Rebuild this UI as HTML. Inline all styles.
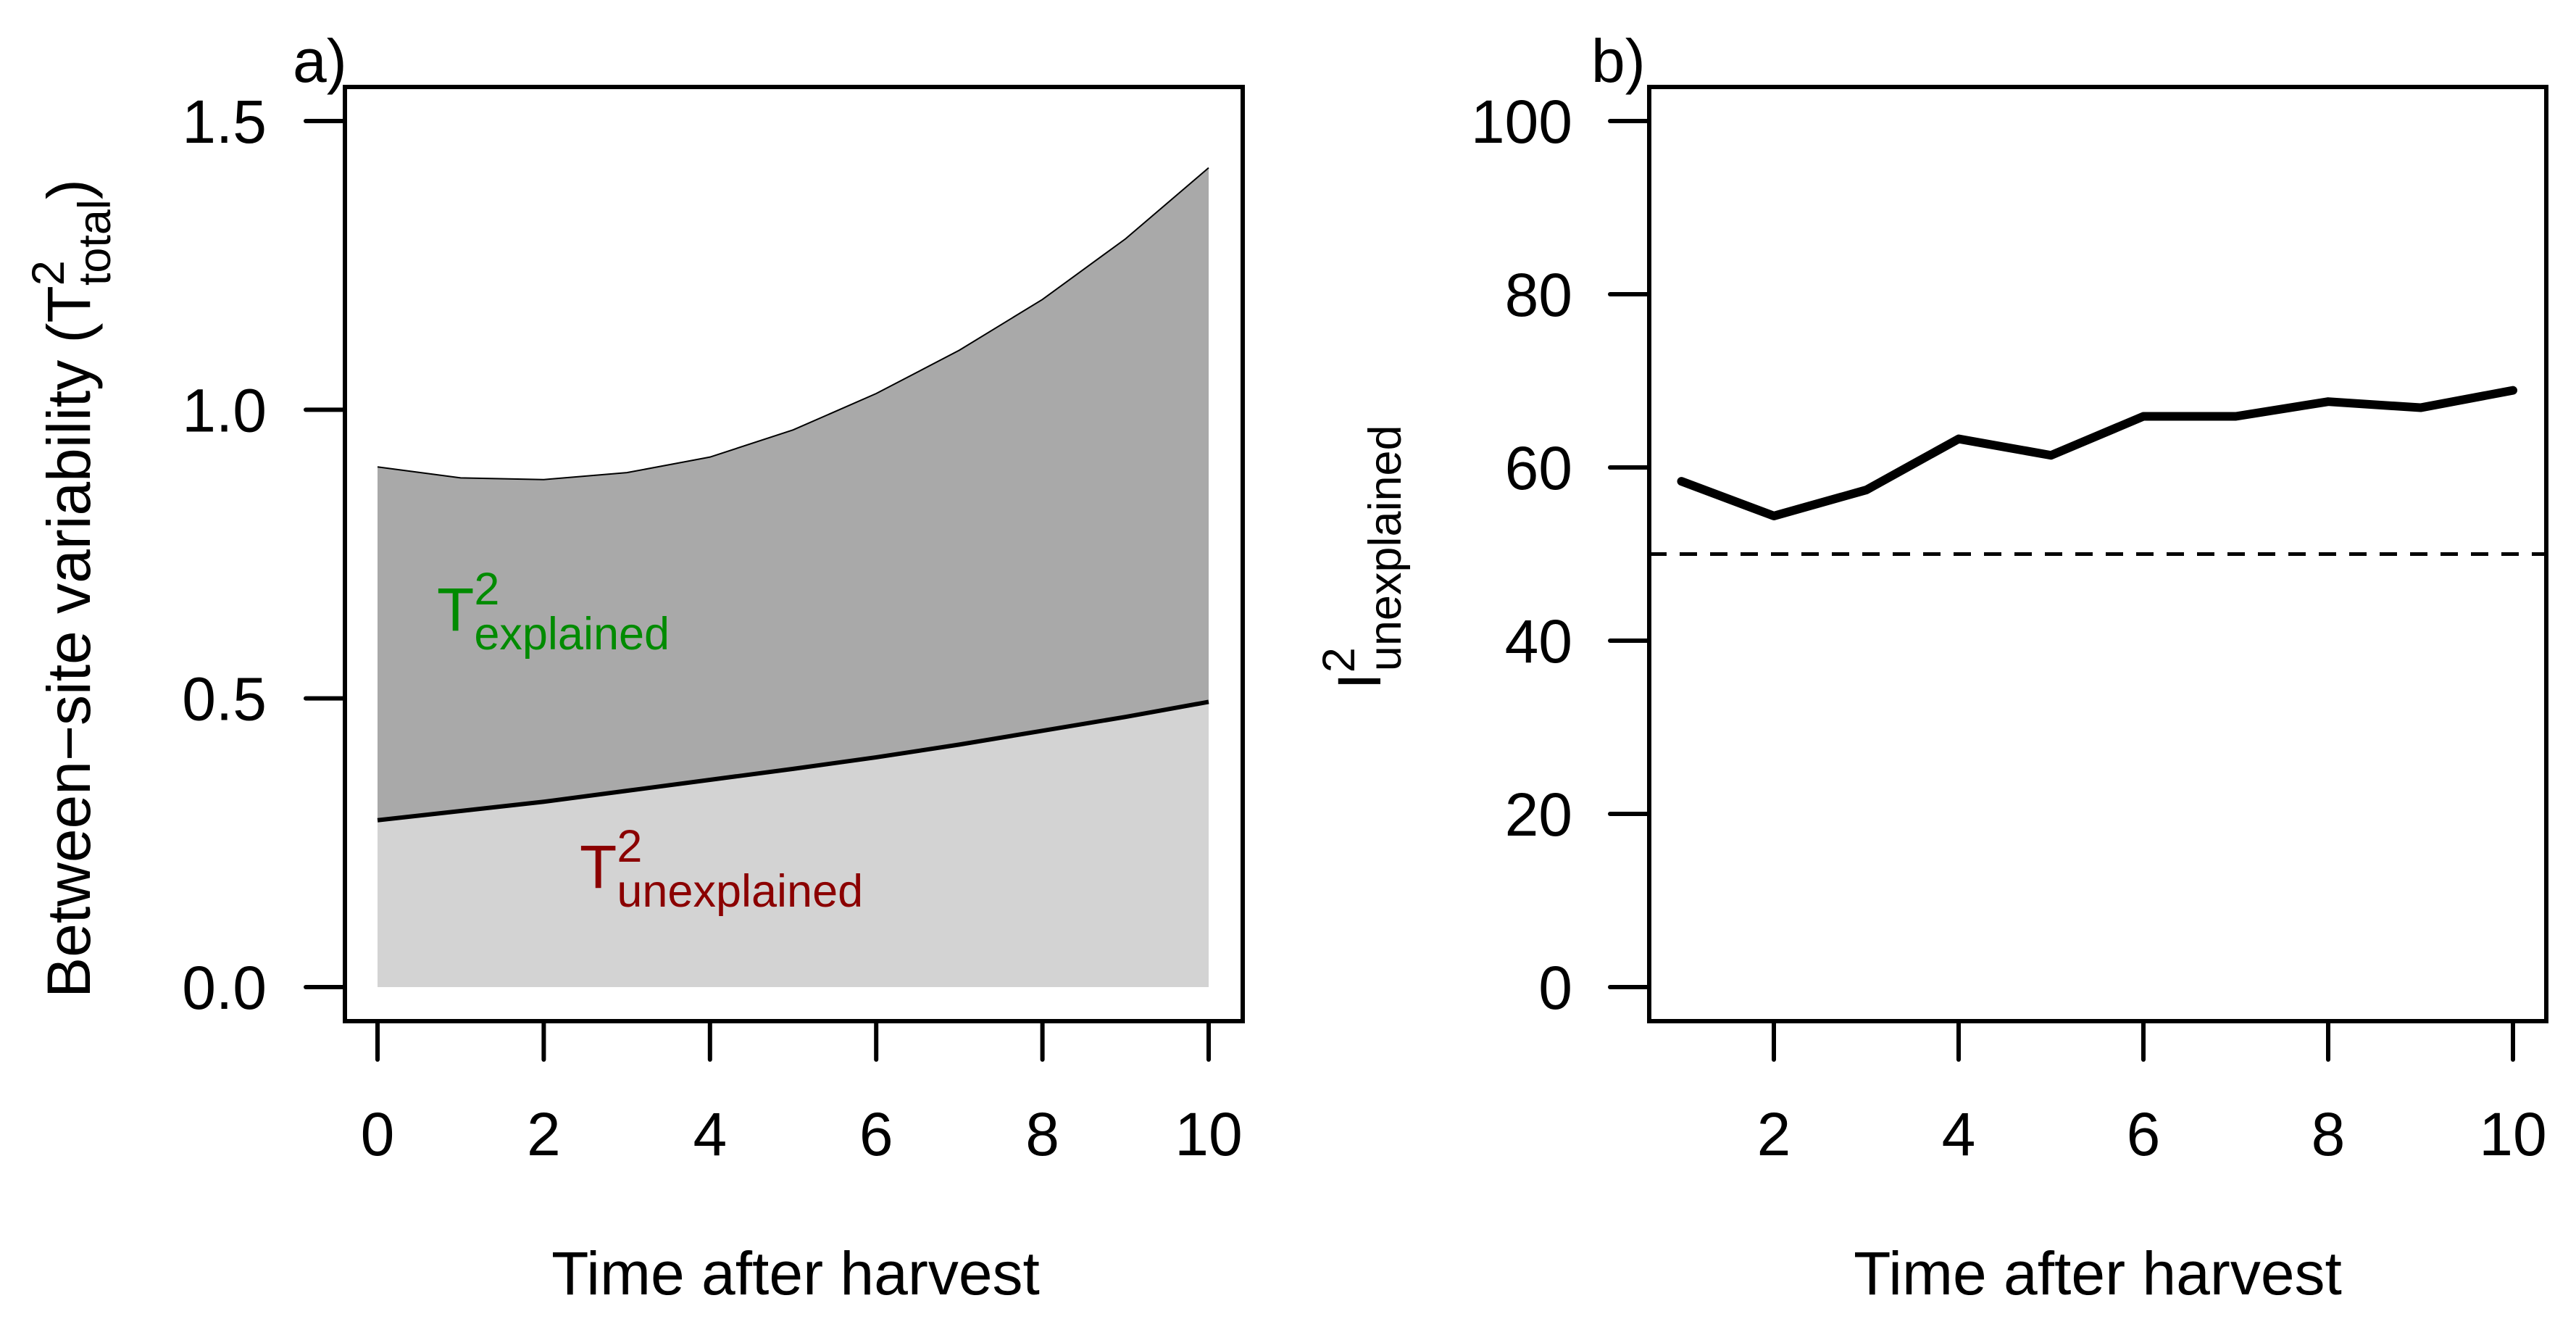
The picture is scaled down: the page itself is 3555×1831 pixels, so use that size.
<!DOCTYPE html>
<html><head><meta charset="utf-8"><style>
html,body{margin:0;padding:0;background:#fff}
svg{display:block;font-family:"Liberation Sans",Arial,sans-serif}
</style></head><body>
<svg id="chart" width="3555" height="1831" viewBox="0 0 3555 1831" xmlns="http://www.w3.org/2000/svg">
<g id="pa"></g>
<g id="pb"></g>
</svg>
<script>
const aTimes=[0,1,2,3,4,5,6,7,8,9,10];
const aTotal=[0.901,0.882,0.879,0.891,0.918,0.965,1.028,1.103,1.191,1.296,1.419];
const aUnexplained=[0.289,0.305,0.321,0.340,0.359,0.378,0.398,0.420,0.444,0.468,0.494];
const aYTicks=[0,0.5,1,1.5];
const aYTickLabels=["0.0","0.5","1.0","1.5"];
const aXTicks=[0,2,4,6,8,10];
const bTimes=[1,2,3,4,5,6,7,8,9,10];
const bI2=[58.4,54.4,57.4,63.3,61.4,65.9,65.9,67.6,66.9,68.9];
const bThreshold=50;
const bYTicks=[0,20,40,60,80,100];
const bXTicks=[2,4,6,8,10];

const NS="http://www.w3.org/2000/svg";
function mk(parent,tag,attrs,text){const e=document.createElementNS(NS,tag);for(const k in attrs)e.setAttribute(k,attrs[k]);if(text!==undefined)e.textContent=text;parent.appendChild(e);return e;}

const pa=document.getElementById('pa');
const ax=v=>521+(1668-521)*(v/10);
const ay=v=>1362-(1362-167)*(v/1.5);
let d="M"+ax(aTimes[0])+","+ay(0);
aTimes.forEach((t,i)=>d+=" L"+ax(t)+","+ay(aUnexplained[i]));
d+=" L"+ax(aTimes[aTimes.length-1])+","+ay(0)+"Z";
let lower=mk(pa,'path',{d:d,fill:'#d3d3d3'});


let d2="M"+aTimes.map((t,i)=>ax(t)+","+ay(aTotal[i])).join(" L");
d2+=" L"+aTimes.map((t,i)=>ax(t)+","+ay(aUnexplained[i])).reverse().join(" L")+"Z";
let upper=mk(pa,'path',{d:d2,fill:'#a9a9a9'});


let tl=mk(pa,'polyline',{points:aTimes.map((t,i)=>ax(t)+","+ay(aTotal[i])).join(" "),fill:'none',stroke:'#000','stroke-width':2});


let ul=mk(pa,'polyline',{points:aTimes.map((t,i)=>ax(t)+","+ay(aUnexplained[i])).join(" "),fill:'none',stroke:'#000','stroke-width':6});


let boxa=mk(pa,'rect',{x:476,y:120,width:1239,height:1289,fill:'none',stroke:'#000','stroke-width':6});


aYTicks.forEach((v,i)=>{
  let t=mk(pa,'line',{x1:422,x2:476,y1:ay(v),y2:ay(v),stroke:'#000','stroke-width':6,'stroke-linecap':'round'});
  
  
  let l=mk(pa,'text',{x:368,y:ay(v)+30,'font-size':84,'text-anchor':'end'},aYTickLabels[i]);
  
  
});
aXTicks.forEach(v=>{
  let t=mk(pa,'line',{x1:ax(v),x2:ax(v),y1:1409,y2:1462,stroke:'#000','stroke-width':6,'stroke-linecap':'round'});
  
  
  let l=mk(pa,'text',{x:ax(v),y:1594,'font-size':84,'text-anchor':'middle'},String(v));
  
  
});
</script>
<script>
(function(){
const svg=document.getElementById('chart');
svg.insertAdjacentHTML('beforeend',`
<text x="404" y="113" font-size="84">a)</text>
<text x="1098" y="1786" font-size="84" text-anchor="middle">Time after harvest</text>
<text transform="translate(124,812) rotate(-90)" font-size="84" text-anchor="middle">Between−site variability (T<tspan font-size="63" dy="-36">2</tspan><tspan font-size="63" dx="-35" dy="64">total</tspan><tspan dy="-28">)</tspan></text>
<text x="603" y="870" font-size="84" fill="#008B00">T<tspan font-size="63" dy="-36">2</tspan><tspan font-size="63" dx="-35" dy="62">explained</tspan></text>
<text x="800" y="1225" font-size="84" fill="#8B0000">T<tspan font-size="63" dy="-36">2</tspan><tspan font-size="63" dx="-35" dy="62">unexplained</tspan></text>
<text x="2196" y="113" font-size="84">b)</text>
<text x="2895" y="1786" font-size="84" text-anchor="middle">Time after harvest</text>
<text transform="translate(1905,769) rotate(-90)" font-size="84" text-anchor="middle">I<tspan font-size="63" dy="-36">2</tspan><tspan font-size="63" dx="-33" dy="64">unexplained</tspan></text>
`);
})();
</script>
<script>
const pb=document.getElementById('pb');
const bx=v=>2448+(3468-2448)*((v-2)/8);
const by=v=>1362-(1362-167)*(v/100);
let boxb=mk(pb,'rect',{x:2276,y:120,width:1238,height:1289,fill:'none',stroke:'#000','stroke-width':6});


bYTicks.forEach(v=>{
  let t=mk(pb,'line',{x1:2222,x2:2276,y1:by(v),y2:by(v),stroke:'#000','stroke-width':6,'stroke-linecap':'round'});
  
  
  let l=mk(pb,'text',{x:2170,y:by(v)+30,'font-size':84,'text-anchor':'end'},String(v));
  
  
});
bXTicks.forEach(v=>{
  let t=mk(pb,'line',{x1:bx(v),x2:bx(v),y1:1409,y2:1462,stroke:'#000','stroke-width':6,'stroke-linecap':'round'});
  
  
  let l=mk(pb,'text',{x:bx(v),y:1594,'font-size':84,'text-anchor':'middle'},String(v));
  
  
});
let dl=mk(pb,'line',{x1:2276,x2:3514,y1:by(bThreshold),y2:by(bThreshold),stroke:'#000','stroke-width':5,'stroke-dasharray':'24 18'});


let il=mk(pb,'polyline',{points:bTimes.map((t,i)=>bx(t)+","+by(bI2[i])).join(" "),fill:'none',stroke:'#000','stroke-width':12,'stroke-linejoin':'round','stroke-linecap':'round'});


</script>
</body></html>
